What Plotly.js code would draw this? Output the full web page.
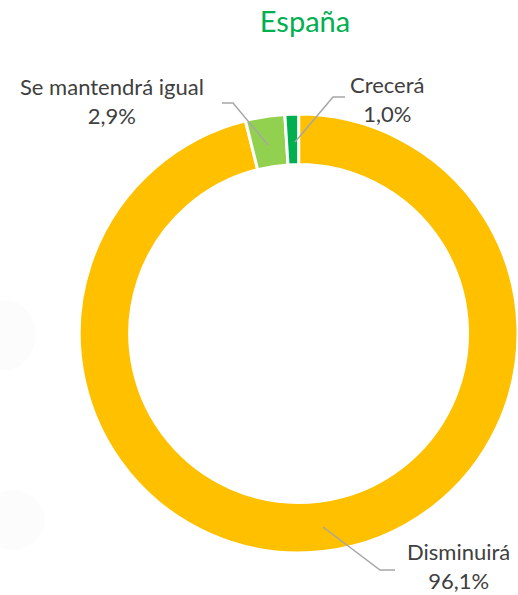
<!DOCTYPE html>
<html>
<head>
<meta charset="utf-8">
<script src="https://cdn.plot.ly/plotly-3.0.1.min.js"></script>
<style>html,body{margin:0;padding:0;background:#fff;}#chart{width:518px;height:595px;}</style>
</head>
<body>
<div id="chart"></div>
<script>
const categories = ["Disminuirá", "Se mantendrá igual", "Crecerá"];
const values = [96.1, 2.9, 1.0];
const valueLabels = ["96,1%", "2,9%", "1,0%"];
const colors = ["#FFC000", "#92D050", "#00B050"];

const W = 518, H = 595;
const px = x => x / W;
const py = y => 1 - y / H;

const trace = {
  type: "pie",
  labels: categories,
  values: values,
  sort: false,
  direction: "clockwise",
  rotation: 0,
  hole: 0.77,
  textinfo: "none",
  hoverinfo: "label+percent",
  marker: {colors: colors, line: {color: "#ffffff", width: 3}},
  domain: {x: [0.153, 1.0], y: [0.0700, 0.8090]},
  showlegend: false
};

const labelFont = {family: "Lato, 'Open Sans', sans-serif", size: 22, color: "#404040"};
const labelPos = [
  {x: 458, y: 566},
  {x: 112, y: 101},
  {x: 387, y: 99}
];
const annotations = categories.map((c, i) => ({
  xref: "paper", yref: "paper",
  x: px(labelPos[i].x), y: py(labelPos[i].y),
  text: c + "<br>" + valueLabels[i],
  showarrow: false, align: "center",
  xanchor: "center", yanchor: "middle",
  font: labelFont
}));

const line = (pts) => ({
  type: "path", xref: "paper", yref: "paper",
  path: "M " + pts.map(p => px(p[0]) + "," + py(p[1])).join(" L "),
  line: {color: "#A6A6A6", width: 1.5}
});

const shapes = [
  {type: "circle", xref: "paper", yref: "paper", x0: px(-20), x1: px(35), y0: py(370), y1: py(300),
   fillcolor: "rgba(0,0,0,0.012)", line: {width: 0}, layer: "below"},
  {type: "circle", xref: "paper", yref: "paper", x0: px(-20), x1: px(45), y0: py(550), y1: py(490),
   fillcolor: "rgba(0,0,0,0.012)", line: {width: 0}, layer: "below"},
  line([[222, 103], [233, 103], [268, 145]]),
  line([[345, 97], [333, 97], [295, 142]]),
  line([[323, 527], [380, 570], [395, 570]])
];

const layout = {
  width: W, height: H,
  margin: {l: 0, r: 0, t: 0, b: 0},
  paper_bgcolor: "#ffffff",
  title: {
    text: "España",
    x: px(305), xanchor: "center",
    y: py(22), yanchor: "middle",
    font: {family: "Lato, 'Open Sans', sans-serif", size: 29, color: "#00B050"}
  },
  annotations: annotations,
  shapes: shapes
};

Plotly.newPlot("chart", [trace], layout, {displayModeBar: false, staticPlot: true});
</script>
</body>
</html>
